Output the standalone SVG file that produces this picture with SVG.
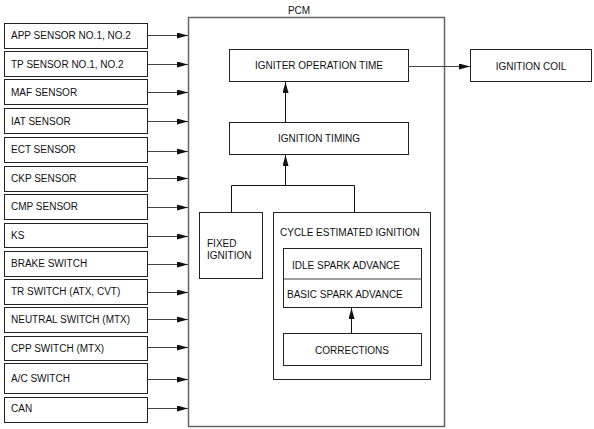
<svg xmlns="http://www.w3.org/2000/svg" width="594" height="429" viewBox="0 0 594 429">
<style>
.b{fill:#fff;stroke:#222;stroke-width:1}
.t{font-family:"Liberation Sans",Arial,sans-serif;font-size:10px;fill:#111}
.c{text-anchor:middle}
.l{fill:none;stroke:#444;stroke-width:1}
.k{fill:none;stroke:#111;stroke-width:1}
</style>
<defs>
<marker id="ah" markerWidth="11" markerHeight="6" refX="11" refY="3" orient="auto" markerUnits="userSpaceOnUse">
<path d="M0,0 L11,3 L0,6 Z" fill="#111"/>
</marker>
</defs>
<rect width="594" height="429" fill="#fff"/>
<g id="pcm">
<rect x="188.5" y="17.5" width="256" height="409" fill="none" stroke="#666" stroke-width="1.5"/>
<text class="t c" x="299" y="13.5">PCM</text>
</g>
<g id="inputs">
<g id="app"><rect class="b" x="4.5" y="23.5" width="143" height="25"/><text class="t" x="11" y="39">APP SENSOR NO.1, NO.2</text></g>
<g id="tp"><rect class="b" x="4.5" y="51.5" width="143" height="25"/><text class="t" x="11" y="67.5">TP SENSOR NO.1, NO.2</text></g>
<g id="maf"><rect class="b" x="4.5" y="79.5" width="143" height="25"/><text class="t" x="11" y="95.5">MAF SENSOR</text></g>
<g id="iat"><rect class="b" x="4.5" y="108.5" width="143" height="25"/><text class="t" x="11" y="124.5">IAT SENSOR</text></g>
<g id="ect"><rect class="b" x="4.5" y="137.5" width="143" height="25"/><text class="t" x="11" y="153">ECT SENSOR</text></g>
<g id="ckp"><rect class="b" x="4.5" y="166.5" width="143" height="25"/><text class="t" x="11" y="181.5">CKP SENSOR</text></g>
<g id="cmp"><rect class="b" x="4.5" y="194.5" width="143" height="25"/><text class="t" x="11" y="210">CMP SENSOR</text></g>
<g id="ks"><rect class="b" x="4.5" y="223.5" width="143" height="24"/><text class="t" x="11" y="238.5">KS</text></g>
<g id="brake"><rect class="b" x="4.5" y="251.5" width="143" height="25"/><text class="t" x="11" y="267">BRAKE SWITCH</text></g>
<g id="tr"><rect class="b" x="4.5" y="279.5" width="143" height="25"/><text class="t" x="11" y="295">TR SWITCH (ATX, CVT)</text></g>
<g id="neutral"><rect class="b" x="4.5" y="307.5" width="143" height="25"/><text class="t" x="11" y="322.5">NEUTRAL SWITCH (MTX)</text></g>
<g id="cpp"><rect class="b" x="4.5" y="336.5" width="143" height="24"/><text class="t" x="11" y="351.5">CPP SWITCH (MTX)</text></g>
<g id="ac"><rect class="b" x="4.5" y="363.5" width="143" height="30"/><text class="t" x="11" y="382">A/C SWITCH</text></g>
<g id="can"><rect class="b" x="4.5" y="397.5" width="143" height="25"/><text class="t" x="11" y="412">CAN</text></g>
</g>
<g id="igniter"><rect class="b" x="229.5" y="49.5" width="179" height="32"/><text class="t c" x="319" y="69">IGNITER OPERATION TIME</text></g>
<g id="timing"><rect class="b" x="229.5" y="122.5" width="179" height="32"/><text class="t c" x="319" y="142">IGNITION TIMING</text></g>
<g id="coil"><rect class="b" x="470.5" y="49.5" width="121" height="32"/><text class="t c" x="531" y="69.5">IGNITION COIL</text></g>
<g id="fixed"><rect class="b" x="199.5" y="212.5" width="63" height="66"/><text class="t" x="207" y="247">FIXED</text><text class="t" x="207" y="259">IGNITION</text></g>
<g id="cycle"><rect class="b" x="273.5" y="212.5" width="157" height="167"/><text class="t" x="280" y="235.5">CYCLE ESTIMATED IGNITION</text></g>
<g id="advance"><rect class="b" x="283.5" y="248.5" width="138" height="59"/><line x1="283.5" y1="279" x2="421.5" y2="279" stroke="#444" stroke-width="1.2"/><text class="t" x="292" y="268.5">IDLE SPARK ADVANCE</text><text class="t" x="287" y="297.5">BASIC SPARK ADVANCE</text></g>
<g id="corrections"><rect class="b" x="283.5" y="333.5" width="138" height="32"/><text class="t c" x="352" y="353.5">CORRECTIONS</text></g>
<g id="connectors">
<path class="l" d="M147.5,35.5H188" marker-end="url(#ah)"/>
<path class="l" d="M147.5,64.5H188" marker-end="url(#ah)"/>
<path class="l" d="M147.5,92.5H188" marker-end="url(#ah)"/>
<path class="l" d="M147.5,121.5H188" marker-end="url(#ah)"/>
<path class="l" d="M147.5,151.5H188" marker-end="url(#ah)"/>
<path class="l" d="M147.5,178.5H188" marker-end="url(#ah)"/>
<path class="l" d="M147.5,207.5H188" marker-end="url(#ah)"/>
<path class="l" d="M147.5,236.5H188" marker-end="url(#ah)"/>
<path class="l" d="M147.5,264.5H188" marker-end="url(#ah)"/>
<path class="l" d="M147.5,292.5H188" marker-end="url(#ah)"/>
<path class="l" d="M147.5,319.5H188" marker-end="url(#ah)"/>
<path class="l" d="M147.5,347.5H188" marker-end="url(#ah)"/>
<path class="l" d="M147.5,379.5H188" marker-end="url(#ah)"/>
<path class="l" d="M147.5,408.5H188" marker-end="url(#ah)"/>
<path class="k" d="M285.5,122.5V82" marker-end="url(#ah)"/>
<path class="l" d="M408.5,66.5H470" marker-end="url(#ah)"/>
<path class="k" d="M231.5,212.5V185.5H354.5V212.5M285.5,185.5V155" marker-end="url(#ah)"/>
<path class="k" d="M351.5,333.5V308" marker-end="url(#ah)"/>
</g>
</svg>
